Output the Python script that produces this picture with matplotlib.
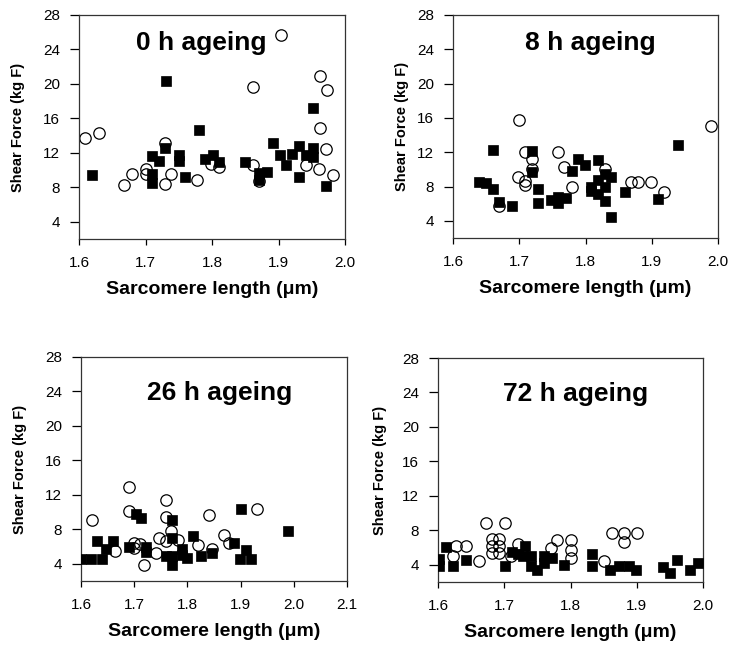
import matplotlib
matplotlib.use("Agg")
import matplotlib.pyplot as plt

# ---------------- data ----------------
titles = ["0 h ageing", "8 h ageing", "26 h ageing", "72 h ageing"]
y_ticks = [4, 8, 12, 16, 20, 24, 28]
x_ticks_a = [1.6, 1.7, 1.8, 1.9, 2.0]
x_ticks_b = [1.6, 1.7, 1.8, 1.9, 2.0, 2.1]

circ_x0 = [1.904, 1.962, 1.973, 1.861, 1.609, 1.630, 1.962, 1.972, 1.730, 1.679, 1.668, 1.700,
           1.700, 1.739, 1.729, 1.778, 1.798, 1.810, 1.861, 1.870, 1.942, 1.961, 1.982]
circ_y0 = [25.7, 20.9, 19.3, 19.7, 13.7, 14.3, 14.9, 12.5, 13.1, 9.5, 8.3, 10.1,
           9.6, 9.5, 8.4, 8.9, 10.7, 10.3, 10.6, 8.7, 10.6, 10.1, 9.4]
sq_x0 = [1.731, 1.780, 1.619, 1.952, 1.892, 1.902, 1.911, 1.931, 1.921, 1.952, 1.941, 1.952,
         1.931, 1.972, 1.710, 1.720, 1.730, 1.750, 1.750, 1.710, 1.710, 1.759, 1.790, 1.801,
         1.810, 1.850, 1.871, 1.871, 1.882]
sq_y0 = [20.3, 14.7, 9.4, 17.2, 13.1, 11.8, 10.6, 12.8, 11.9, 12.6, 11.8, 11.5,
         9.2, 8.2, 11.6, 11.1, 12.6, 11.8, 11.1, 9.5, 8.5, 9.2, 11.3, 11.8,
         10.9, 10.9, 9.7, 8.9, 9.8]

circ_x8 = [1.699, 1.990, 1.708, 1.719, 1.758, 1.768, 1.719, 1.698, 1.709, 1.709, 1.779, 1.829,
           1.869, 1.879, 1.899, 1.919, 1.669]
circ_y8 = [15.7, 15.1, 12.0, 11.2, 12.0, 10.3, 10.1, 9.1, 8.6, 8.2, 7.9, 10.1,
           8.5, 8.5, 8.5, 7.4, 5.7]
sq_x8 = [1.660, 1.719, 1.940, 1.639, 1.650, 1.660, 1.669, 1.689, 1.719, 1.728, 1.728, 1.748,
         1.758, 1.758, 1.770, 1.779, 1.789, 1.799, 1.819, 1.829, 1.819, 1.839, 1.809, 1.809,
         1.829, 1.819, 1.829, 1.839, 1.859, 1.909]
sq_y8 = [12.3, 12.2, 12.8, 8.5, 8.4, 7.7, 6.2, 5.7, 9.7, 7.7, 6.1, 6.4,
         6.8, 6.1, 6.7, 9.8, 11.2, 10.5, 11.1, 9.5, 8.8, 9.1, 8.0, 7.5,
         8.0, 7.1, 6.3, 4.5, 7.4, 6.6]

circ_x26 = [1.621, 1.691, 1.690, 1.760, 1.760, 1.840, 1.931, 1.769, 1.747, 1.759, 1.782, 1.819,
            1.869, 1.879, 1.700, 1.711, 1.700, 1.663, 1.741, 1.847, 1.719]
circ_y26 = [9.1, 12.9, 10.1, 11.4, 9.4, 9.7, 10.4, 7.8, 7.0, 6.6, 6.8, 6.2,
            7.3, 6.4, 6.4, 6.3, 5.8, 5.5, 5.3, 5.7, 3.8]
sq_x26 = [1.703, 1.713, 1.771, 1.901, 1.990, 1.771, 1.810, 1.630, 1.660, 1.690, 1.647, 1.722,
          1.722, 1.888, 1.910, 1.760, 1.771, 1.790, 1.790, 1.771, 1.800, 1.825, 1.847, 1.600,
          1.619, 1.640, 1.898, 1.920]
sq_y26 = [9.8, 9.3, 9.1, 10.3, 7.8, 7.0, 7.2, 6.6, 6.6, 6.0, 5.7, 6.0,
          5.4, 6.4, 5.6, 4.9, 4.9, 5.7, 5.0, 3.9, 4.7, 4.9, 5.3, 4.5,
          4.6, 4.6, 4.5, 4.5]

circ_x72 = [1.672, 1.701, 1.681, 1.692, 1.681, 1.692, 1.682, 1.692, 1.642, 1.627, 1.622, 1.662,
            1.720, 1.710, 1.780, 1.770, 1.800, 1.800, 1.800, 1.850, 1.862, 1.880, 1.900, 1.880]
circ_y72 = [8.8, 8.8, 7.0, 7.0, 6.2, 6.2, 5.4, 5.4, 6.2, 6.2, 5.0, 4.4,
            6.4, 5.0, 6.9, 5.9, 6.9, 5.7, 4.8, 4.4, 7.7, 7.7, 7.7, 6.7]
sq_x72 = [1.612, 1.602, 1.602, 1.622, 1.642, 1.701, 1.711, 1.731, 1.720, 1.729, 1.740, 1.740,
          1.750, 1.760, 1.760, 1.772, 1.790, 1.832, 1.832, 1.860, 1.873, 1.888, 1.899, 1.940,
          1.950, 1.960, 1.980, 1.992]
sq_y72 = [6.1, 4.7, 3.8, 3.8, 4.5, 3.8, 5.5, 6.2, 5.2, 5.0, 5.0, 3.8,
          3.4, 4.2, 5.0, 4.8, 4.0, 5.3, 3.9, 3.4, 3.8, 3.8, 3.4, 3.7,
          3.0, 4.5, 3.4, 4.2]

# ---------------- figure ----------------
W, H = 731, 646
fig = plt.figure(figsize=(W / 100, H / 100), dpi=100)
plt.rcParams['font.family'] = ['Liberation Sans', 'DejaVu Sans']


def px_axes(left, right, top, bottom):
    return fig.add_axes([left / W, 1 - bottom / H, (right - left) / W, (bottom - top) / H])


panels = [
    dict(box=(79, 345, 15, 239), xt=x_ticks_a, xlim=(1.6, 2.0),
         cx=circ_x0, cy=circ_y0, sx=sq_x0, sy=sq_y0, title=titles[0], tpos=(0.46, 24.7), ylx=25),
    dict(box=(453, 718, 15, 238), xt=x_ticks_a, xlim=(1.6, 2.0),
         cx=circ_x8, cy=circ_y8, sx=sq_x8, sy=sq_y8, title=titles[1], tpos=(0.52, 24.7), ylx=409),
    dict(box=(81, 347, 357, 581), xt=x_ticks_b, xlim=(1.6, 2.1),
         cx=circ_x26, cy=circ_y26, sx=sq_x26, sy=sq_y26, title=titles[2], tpos=(0.52, 23.8), ylx=27),
    dict(box=(438, 703, 358, 582), xt=x_ticks_a, xlim=(1.6, 2.0),
         cx=circ_x72, cy=circ_y72, sx=sq_x72, sy=sq_y72, title=titles[3], tpos=(0.52, 23.8), ylx=387),
]

for p in panels:
    l, r, t, b = p['box']
    ax = px_axes(l, r, t, b)
    ax.plot(p['cx'], p['cy'], linestyle='none', marker='o', markersize=8.2,
            markerfacecolor='none', markeredgecolor='black', markeredgewidth=0.9, zorder=2)
    ax.plot(p['sx'], p['sy'], linestyle='none', marker='s', markersize=7.2,
            markerfacecolor='black', markeredgecolor='black', markeredgewidth=0.5, zorder=3)
    ax.set_xlim(*p['xlim'])
    ax.set_ylim(2, 28)
    ax.set_xticks(p['xt'])
    ax.set_xticklabels([f"{v:.1f}" for v in p['xt']])
    ax.set_yticks(y_ticks)
    ax.set_yticklabels([str(v) for v in y_ticks])
    ax.tick_params(axis='x', direction='out', length=4, width=0.9, pad=8, labelsize=11)
    ax.tick_params(axis='y', direction='out', length=6.5, width=0.9, pad=7, labelsize=11)
    for s in ax.spines.values():
        s.set_linewidth(0.9)
        s.set_color('#333333')
    ax.text(p['tpos'][0], p['tpos'][1], p['title'], transform=ax.get_yaxis_transform(),
            ha='center', va='center', fontsize=19, fontweight='bold')
    ax.set_ylabel("Shear Force (kg F)", fontsize=10.5, fontweight='bold')
    ax.yaxis.set_label_coords((p['ylx'] - l) / (r - l), 0.5)
    ax.set_xlabel("Sarcomere length (\u03bcm)", fontsize=14, fontweight='bold', labelpad=8)

fig.savefig("out.png", dpi=100)
